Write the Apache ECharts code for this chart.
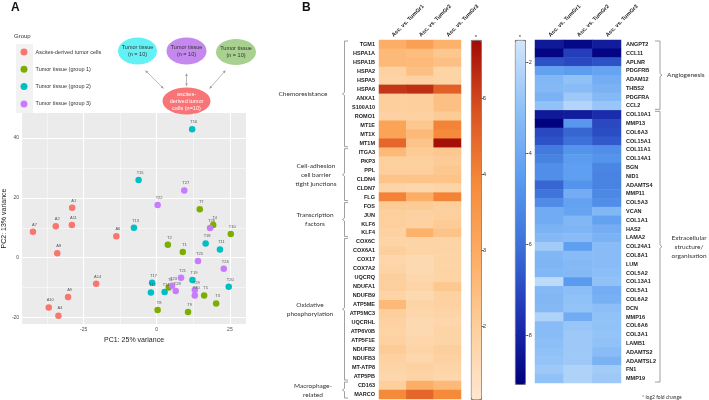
<!DOCTYPE html>
<html>
<head>
<meta charset="utf-8">
<script src="https://cdn.jsdelivr.net/npm/echarts@6/dist/echarts.min.js"></script>
<style>
  html, body { margin: 0; padding: 0; background: #fff; }
  #chart { width: 709px; height: 400px; }
</style>
</head>
<body>
<div id="chart"></div>
<script>
// PCA scores: [PC1, PC2, label]
const ascPts = [
  [-42.3, 8.7, 'A7'], [-28.9, 16.7, 'A1'], [-34.5, 10.5, 'A2'], [-29.0, 10.9, 'A11'],
  [-13.8, 7.2, 'A6'], [-34.0, 1.5, 'A8'], [-20.7, -8.7, 'A14'], [-30.3, -13.2, 'A9'],
  [-36.9, -16.7, 'A10'], [-33.6, -19.4, 'A4']
]
const grp1Pts = [
  [14.7, 16.2, 'T7'], [19.3, 10.9, 'T4'], [25.3, 7.9, 'T10'], [3.8, 4.3, 'T2'],
  [8.9, 1.9, 'T1'], [4.1, -10.0, 'T6'], [16.2, -12.7, 'T5'], [20.3, -15.3, 'T3'],
  [0.3, -17.5, 'T8'], [10.7, -18.2, 'T9']
]
const grp2Pts = [
  [12.1, 43.0, 'T16'], [-6.2, 26.0, 'T15'], [-7.8, 10.0, 'T13'], [16.7, 4.7, 'T18'],
  [21.6, 2.7, 'T11'], [12.2, -7.5, 'T19'], [-1.6, -8.4, 'T17'], [-2.0, -11.7, 'T12'],
  [2.7, -11.5, 'T14'], [24.6, -9.7, 'T20']
]
const grp3Pts = [
  [9.4, 22.5, 'T27'], [0.3, 17.6, 'T22'], [18.2, 9.9, 'T26'], [14.1, -1.1, 'T25'],
  [22.9, -3.7, 'T24'], [8.3, -6.7, 'T21'], [5.2, -9.4, 'T23'], [6.5, -11.2, 'T28'],
  [13.0, -10.8, 'T29'], [13.0, -12.7, 'T30']
]
const groupNames = ['Ascites-derived tumor cells', 'Tumor tissue (group 1)', 'Tumor tissue (group 2)', 'Tumor tissue (group 3)']
const groupColors = ['#f8766d', '#7cae00', '#00bfc4', '#c77cff']

const pcXTicks = [-25, 0, 25]
const pcXMinor = [-37.5, -12.5, 12.5]
const pcYTicks = [-20, 0, 20, 40]
const pcYMinor = [-10, 10, 30]

// heatmaps
const compCols = ['Asc. vs. TumGr1', 'Asc. vs. TumGr2', 'Asc. vs. TumGr3']

const upGenes = ['TGM1', 'HSPA1A', 'HSPA1B', 'HSPA2', 'HSPA5', 'HSPA6', 'ANXA1', 'S100A10', 'ROMO1', 'MT1E', 'MT1X', 'MT1M',
  'ITGA3', 'PKP3', 'PPL', 'CLDN4', 'CLDN7', 'FLG',
  'FOS', 'JUN', 'KLF6', 'KLF4',
  'COX6C', 'COX6A1', 'COX17', 'COX7A2', 'UQCRQ', 'NDUFA1', 'NDUFB9', 'ATP5ME', 'ATP5MC3', 'UQCRHL', 'ATP6V0B', 'ATP5F1E', 'NDUFB2', 'NDUFB3', 'MT-ATP8', 'ATP5PB',
  'CD163', 'MARCO']
const upVals = [
  [2.9, 3.3, 2.8], [2.6, 2.5, 2.2], [2.6, 2.6, 2.4], [1.9, 2.4, 1.8], [1.8, 1.9, 1.8], [5.2, 5.3, 4.6],
  [2.0, 2.0, 2.4], [2.0, 2.0, 2.4], [1.9, 1.9, 2.1], [3.2, 2.2, 4.0], [3.2, 2.6, 3.9], [4.5, 2.3, 5.7],
  [2.6, 2.1, 2.2], [2.0, 2.0, 2.1], [2.0, 2.0, 2.2], [2.3, 2.3, 2.3], [1.8, 1.7, 1.8], [4.0, 2.9, 4.0],
  [2.1, 2.1, 2.0], [2.0, 1.9, 2.0], [2.0, 1.9, 2.1], [1.9, 2.8, 2.3],
  [1.8, 1.8, 1.8], [2.0, 1.8, 1.8], [1.7, 1.6, 1.8], [1.8, 1.6, 1.8], [2.0, 1.7, 1.8], [2.0, 1.8, 2.2],
  [1.8, 1.6, 1.9], [2.6, 1.8, 1.9], [2.0, 1.7, 1.8], [1.9, 1.6, 1.7], [1.8, 1.6, 1.8], [1.9, 1.7, 1.8],
  [2.1, 1.8, 2.0], [1.9, 1.7, 1.9], [1.8, 1.9, 1.8], [1.7, 1.8, 1.7],
  [2.0, 2.9, 2.6], [3.9, 4.5, 3.9]
]
const upGroups = [
  { n: 12, label: 'Chemoresistance', x: 303 },
  { n: 6, label: 'Cell-adhesion\ncell barrier\ntight junctions', x: 316 },
  { n: 4, label: 'Transcription\nfactors', x: 315 },
  { n: 16, label: 'Oxidative\nphosphorylation', x: 310 },
  { n: 2, label: 'Macrophage-\nrelated', x: 313 }
]

const downGenes = ['ANGPT2', 'CCL11', 'APLNR', 'PDGFRB', 'ADAM12', 'THBS2', 'PDGFRA', 'CCL2',
  'COL10A1', 'MMP13', 'COL6A3', 'COL15A1', 'COL11A1', 'COL14A1', 'BGN', 'NID1', 'ADAMTS4', 'MMP11', 'COL5A3',
  'VCAN', 'COL1A1', 'HAS2', 'LAMA2', 'COL24A1', 'COL8A1', 'LUM', 'COL5A2', 'COL13A1', 'COL5A1', 'COL6A2',
  'DCN', 'MMP16', 'COL6A6', 'COL3A1', 'LAMB1', 'ADAMTS2', 'ADAMTSL2', 'FN1', 'MMP19']
const downVals = [
  [-8.3, -8.8, -8.2], [-8.9, -7.3, -8.9], [-6.8, -7.0, -6.8], [-4.3, -4.5, -4.2], [-3.4, -3.0, -3.8],
  [-3.3, -3.2, -3.6], [-3.6, -2.7, -3.3], [-3.0, -2.2, -2.8],
  [-8.3, -8.2, -7.8], [-9.0, -4.7, -7.0], [-7.0, -6.3, -6.9], [-6.8, -6.0, -6.6], [-5.7, -4.8, -5.0],
  [-5.4, -4.5, -4.8], [-5.0, -4.4, -5.3], [-5.0, -4.4, -5.4], [-6.3, -4.8, -5.4], [-5.9, -3.8, -5.2],
  [-5.1, -4.3, -5.0], [-3.9, -4.2, -3.4], [-3.9, -3.4, -4.3], [-3.6, -3.5, -3.8], [-3.3, -3.2, -3.6],
  [-2.6, -4.4, -3.2], [-3.4, -3.2, -3.2], [-3.5, -3.3, -3.2], [-3.4, -3.3, -3.1], [-2.0, -4.6, -3.0],
  [-3.3, -3.1, -3.8], [-3.4, -3.0, -3.7], [-3.3, -2.9, -3.1], [-2.3, -3.9, -3.0], [-3.2, -2.8, -3.0],
  [-3.2, -2.7, -2.9], [-3.1, -2.7, -3.0], [-3.0, -2.7, -3.2], [-2.9, -2.7, -3.6], [-2.7, -2.3, -2.6],
  [-3.0, -2.3, -2.7]
]
const downGroups = [
  { n: 8, label: 'Angiogenesis', x: 667, align: 'left' },
  { n: 31, label: 'Extracellular\nstructure/\norganisation', x: 689, align: 'center' }
]

const upRange = [1.05, 5.77]
const upTicks = [2, 3, 4, 5]
const downRange = [-9.06, -1.51]
const downTicks = [-8, -6, -4, -2]

// layout
const HM1 = { left: 379, top: 40, width: 82, height: 359 }
const HM2 = { left: 535, top: 40, width: 86, height: 343 }
const CB1 = { left: 471, top: 40, width: 10, height: 359 }
const CB2 = { left: 515, top: 40, width: 10, height: 344 }
const PCA = { left: 15, top: 113, width: 231, height: 211 }

const sans = 'Liberation Sans, Arial, sans-serif'
const soft = 'Lato, Open Sans, sans-serif'

function toHeat(vals) {
  const out = []
  vals.forEach((row, r) => row.forEach((v, c) => out.push([c, r, v])))
  return out
}

const graphic = []
// panel letters
graphic.push({ type: 'text', left: 11, top: 2, style: { text: 'A', font: 'bold 12px ' + sans, fill: '#111' } })
graphic.push({ type: 'text', left: 302, top: 2, style: { text: 'B', font: 'bold 12px ' + sans, fill: '#111' } })
// legend header + key background
graphic.push({ type: 'text', left: 14, top: 33, style: { text: 'Group', font: '6px ' + sans, fill: '#333' } })
graphic.push({ type: 'rect', shape: { x: 16, y: 44, width: 17, height: 69 }, style: { fill: '#f2f2f2' }, z: 0 })

// schematic bubbles
function bubble(cx, cy, rx, ry, color, text, textColor) {
  graphic.push({ type: 'circle', x: cx, y: cy, scaleY: ry / rx, shape: { cx: 0, cy: 0, r: rx }, style: { fill: color } })
  graphic.push({
    type: 'text', x: cx, y: cy, z: 10,
    style: { text: text, font: '5.5px ' + sans, fill: textColor, align: 'center', verticalAlign: 'middle', lineHeight: 7 }
  })
}
bubble(137.5, 51, 19.5, 13.5, '#64f1f5', 'Tumor tissue\n(n = 10)', '#333')
bubble(186.5, 51, 20, 13.5, '#c488ee', 'Tumor tissue\n(n = 10)', '#333')
bubble(236, 52, 20, 13, '#a8d08e', 'Tumor tissue\n(n = 10)', '#333')
bubble(186.5, 101, 24, 13.5, '#f87476', 'ascites-\nderived tumor\ncells (n=10)', '#fff')

function arrowHead(x, y, ang) {
  const s = 2.6, w = 1.3
  const bx = x - s * Math.cos(ang), by = y - s * Math.sin(ang)
  const px = -Math.sin(ang) * w, py = Math.cos(ang) * w
  return { type: 'polygon', shape: { points: [[x, y], [bx + px, by + py], [bx - px, by - py]] }, style: { fill: '#999' } }
}
function dArrow(x1, y1, x2, y2) {
  graphic.push({ type: 'line', shape: { x1, y1, x2, y2 }, style: { stroke: '#aaa', lineWidth: 0.8 } })
  const a = Math.atan2(y2 - y1, x2 - x1)
  graphic.push(arrowHead(x2, y2, a))
  graphic.push(arrowHead(x1, y1, a + Math.PI))
}
dArrow(145.5, 70.5, 163.5, 88.5)
dArrow(186.5, 73.5, 186.5, 86)
dArrow(225.5, 70.5, 209.5, 88.5)

// brackets and group labels
function brackets(groups, top, rowH, side) {
  let start = 0
  groups.forEach(g => {
    const y0 = top + start * rowH + 1
    const y1 = top + (start + g.n) * rowH - 1
    const ym = (y0 + y1) / 2
    let pts
    if (side === 'left') {
      pts = [[348, y0], [344.5, y0], [344.5, ym - 1.5], [342.5, ym], [344.5, ym + 1.5], [344.5, y1], [348, y1]]
    } else {
      pts = [[655, y0], [660, y0], [660, ym - 1.5], [662, ym], [660, ym + 1.5], [660, y1], [655, y1]]
    }
    graphic.push({ type: 'polyline', shape: { points: pts }, style: { stroke: '#888', lineWidth: 0.8, fill: null } })
    graphic.push({
      type: 'text', x: g.x, y: ym,
      style: {
        text: g.label, font: '6.5px ' + soft, fill: '#333', lineHeight: 9,
        align: g.align || 'center', verticalAlign: 'middle'
      }
    })
    start += g.n
  })
}
brackets(upGroups, HM1.top, HM1.height / upGenes.length, 'left')
brackets(downGroups, HM2.top, HM2.height / downGenes.length, 'right')

graphic.push({ type: 'text', x: CB1.left + 5, y: 37, style: { text: '*', font: '6px ' + sans, fill: '#333', align: 'center', verticalAlign: 'middle' } })
graphic.push({ type: 'text', x: CB2.left + 5, y: 37, style: { text: '*', font: '6px ' + sans, fill: '#333', align: 'center', verticalAlign: 'middle' } })
graphic.push({ type: 'text', x: 642, y: 397, style: { text: '* log2 fold change', font: '5px ' + soft, fill: '#333', verticalAlign: 'middle' } })

function scatterSeries(name, pts, color) {
  return {
    name: name, type: 'scatter', xAxisIndex: 0, yAxisIndex: 0, z: 3,
    symbolSize: 6.5, itemStyle: { color: color, opacity: 1 },
    data: pts,
    label: {
      show: true, position: 'top', distance: 2, offset: [1.5, 0],
      formatter: p => p.data[2], fontSize: 4, color: '#555', fontFamily: sans
    },
    emphasis: { disabled: true }
  }
}

// white ggplot-style grid lines, placed through the axis scale
const gridLines = [].concat(
  pcXTicks.map(v => ({ xAxis: v, lineStyle: { width: 1 } })),
  pcXMinor.map(v => ({ xAxis: v, lineStyle: { width: 0.5 } })),
  pcYTicks.map(v => ({ yAxis: v, lineStyle: { width: 1 } })),
  pcYMinor.map(v => ({ yAxis: v, lineStyle: { width: 0.5 } }))
)

const cbAxis = (grid, pos, range, ticks, withLabels) => ({
  type: 'value', gridIndex: grid, position: pos, min: range[0], max: range[1],
  axisLine: { show: false },
  axisTick: { show: true, inside: !withLabels, length: withLabels ? 3 : 2, customValues: ticks, lineStyle: { color: '#333', width: 0.7 } },
  axisLabel: withLabels ? { show: true, customValues: ticks, fontSize: 5.5, color: '#333', margin: 2, fontFamily: sans } : { show: false },
  splitLine: { show: false }
})

const colHeader = {
  interval: 0, rotate: -45, fontSize: 5.5, fontWeight: 'bold', color: '#222', margin: 4
}

const option = {
  animation: false,
  backgroundColor: '#fff',
  textStyle: { fontFamily: sans },
  graphic: graphic,
  legend: {
    orient: 'vertical', left: 20.5, top: 48.5, padding: 0,
    itemWidth: 7, itemHeight: 7, itemGap: 10.3, icon: 'circle',
    data: groupNames,
    textStyle: { fontSize: 5.5, color: '#333', padding: [0, 0, 0, 3], fontFamily: sans },
    selectedMode: false
  },
  grid: [
    { left: PCA.left, top: PCA.top, width: PCA.width, height: PCA.height, show: true, backgroundColor: '#ebebeb', borderWidth: 0 },
    { left: HM1.left, top: HM1.top, width: HM1.width, height: HM1.height },
    { left: HM2.left, top: HM2.top, width: HM2.width, height: HM2.height },
    { left: CB1.left, top: CB1.top, width: CB1.width, height: CB1.height },
    { left: CB2.left, top: CB2.top, width: CB2.width, height: CB2.height }
  ],
  xAxis: [
    {
      type: 'value', gridIndex: 0, min: -46, max: 30.5,
      name: 'PC1: 25% variance', nameLocation: 'middle', nameGap: 7,
      nameTextStyle: { fontSize: 7, color: '#222' },
      axisLine: { show: false },
      axisTick: { show: false },
      axisLabel: { customValues: pcXTicks, fontSize: 5, color: '#4d4d4d', margin: 3 },
      splitLine: { show: false }
    },
    { type: 'category', gridIndex: 1, position: 'top', data: compCols, axisLine: { show: false }, axisTick: { show: false }, axisLabel: colHeader },
    { type: 'category', gridIndex: 2, position: 'top', data: compCols, axisLine: { show: false }, axisTick: { show: false }, axisLabel: colHeader },
    { type: 'category', gridIndex: 3, data: ['x'], show: false },
    { type: 'category', gridIndex: 4, data: ['x'], show: false }
  ],
  yAxis: [
    {
      type: 'value', gridIndex: 0, min: -22.2, max: 48.4,
      name: 'PC2: 13% variance', nameLocation: 'middle', nameGap: 8,
      nameTextStyle: { fontSize: 7, color: '#222' },
      axisLine: { show: false },
      axisTick: { show: false },
      axisLabel: { customValues: pcYTicks, fontSize: 5, color: '#4d4d4d', margin: 3 },
      splitLine: { show: false }
    },
    {
      type: 'category', gridIndex: 1, data: upGenes, inverse: true,
      axisLine: { show: false }, axisTick: { show: false },
      axisLabel: { interval: 0, fontSize: 5.5, fontWeight: 'bold', color: '#222', margin: 4 }
    },
    {
      type: 'category', gridIndex: 2, data: downGenes, inverse: true, position: 'right',
      axisLine: { show: false }, axisTick: { show: false },
      axisLabel: { interval: 0, fontSize: 5.5, fontWeight: 'bold', color: '#222', margin: 5 }
    },
    cbAxis(3, 'right', upRange, upTicks, true),
    cbAxis(3, 'left', upRange, upTicks, false),
    cbAxis(4, 'right', downRange, downTicks, true),
    cbAxis(4, 'left', downRange, downTicks, false)
  ],
  visualMap: [
    {
      type: 'continuous', seriesIndex: 4, min: upRange[0], max: upRange[1],
      orient: 'vertical', left: CB1.left, top: CB1.top, itemWidth: CB1.width, itemHeight: CB1.height,
      padding: 0, calculable: false, hoverLink: false, text: null, showLabel: false,
      borderColor: '#444', borderWidth: 0.8,
      inRange: { color: ['#fee6cf', '#fdcf9c', '#fdad64', '#f68b3a', '#da5322', '#a00a05'] }
    },
    {
      type: 'continuous', seriesIndex: 5, min: downRange[0], max: downRange[1],
      orient: 'vertical', left: CB2.left, top: CB2.top, itemWidth: CB2.width, itemHeight: CB2.height,
      padding: 0, calculable: false, hoverLink: false, text: null, showLabel: false,
      borderColor: '#444', borderWidth: 0.8,
      inRange: { color: ['#00007c', '#1f33b4', '#3c70d8', '#5b9cf0', '#8fc0f7', '#d2e6fb'] }
    }
  ],
  series: [
    scatterSeries(groupNames[0], ascPts, groupColors[0]),
    scatterSeries(groupNames[1], grp1Pts, groupColors[1]),
    scatterSeries(groupNames[2], grp2Pts, groupColors[2]),
    scatterSeries(groupNames[3], grp3Pts, groupColors[3]),
    { type: 'heatmap', xAxisIndex: 1, yAxisIndex: 1, data: toHeat(upVals), emphasis: { disabled: true }, progressive: 0 },
    { type: 'heatmap', xAxisIndex: 2, yAxisIndex: 2, data: toHeat(downVals), emphasis: { disabled: true }, progressive: 0 },
    {
      type: 'scatter', xAxisIndex: 0, yAxisIndex: 0, data: [], z: 1, silent: true,
      markLine: {
        silent: true, symbol: 'none', z: 1, animation: false,
        label: { show: false },
        lineStyle: { color: '#ffffff', type: 'solid', width: 1 },
        data: gridLines
      }
    }
  ]
}

const chart = echarts.init(document.getElementById('chart'), null, { renderer: 'canvas' })
chart.setOption(option)
</script>
</body>
</html>
